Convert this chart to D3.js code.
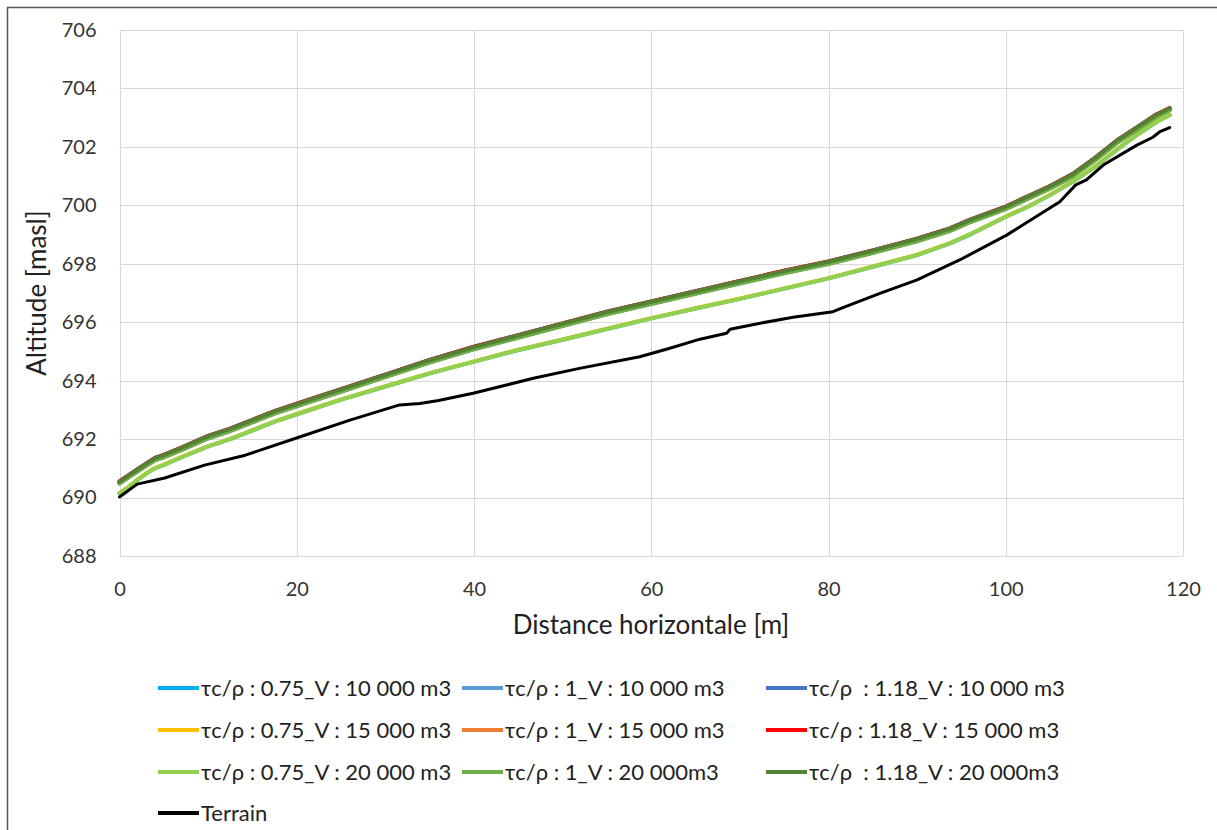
<!DOCTYPE html>
<html><head><meta charset="utf-8">
<script src="https://cdn.jsdelivr.net/npm/d3@7"></script>
<style>
html,body{margin:0;padding:0;background:#fff;}
svg{display:block;font-family:Lato,"Open Sans",sans-serif;}
text{white-space:pre;}
</style></head>
<body><svg id="c" width="1217" height="830"></svg>
<script>
// Horizontal distance positions (m) shared by the simulated profiles
const xs = [0,1,2,3,4,5,7,10,12.5,15,17.5,20,25,30,35,40,45,50,55,60,65,70,75,80,85,90,93.7,96,100,102.5,105,107.5,110,112.5,115,117,118.5];

// Simulated flow surface altitudes (masl)
const s075_10k = [690.14,690.35,690.60,690.82,691.00,691.12,691.38,691.75,692.00,692.30,692.60,692.85,693.35,693.80,694.25,694.65,695.05,695.40,695.77,696.13,696.47,696.80,697.15,697.50,697.90,698.30,698.70,699.00,699.61,699.95,700.35,700.80,701.30,701.90,702.45,702.85,703.09];
const s1_10k   = [690.49,690.69,690.89,691.09,691.28,691.38,691.63,692.03,692.28,692.58,692.88,693.13,693.63,694.13,694.63,695.08,695.48,695.88,696.28,696.63,696.98,697.33,697.68,698.00,698.38,698.78,699.13,699.43,699.88,700.23,700.58,700.98,701.53,702.13,702.63,703.03,703.26];
const s118_10k = [690.55,690.76,690.96,691.16,691.36,691.46,691.71,692.11,692.36,692.66,692.96,693.21,693.71,694.21,694.71,695.16,695.56,695.96,696.36,696.71,697.06,697.41,697.76,698.08,698.46,698.86,699.21,699.51,699.96,700.31,700.66,701.06,701.61,702.21,702.71,703.11,703.33];
const s075_15k = [690.15,690.36,690.61,690.83,691.01,691.13,691.39,691.76,692.01,692.31,692.61,692.86,693.36,693.81,694.26,694.66,695.06,695.41,695.78,696.14,696.48,696.81,697.16,697.51,697.91,698.31,698.71,699.01,699.62,699.96,700.36,700.81,701.31,701.91,702.46,702.86,703.10];
const s1_15k   = [690.50,690.70,690.90,691.10,691.29,691.39,691.64,692.04,692.29,692.59,692.89,693.14,693.64,694.14,694.64,695.09,695.49,695.89,696.29,696.64,696.99,697.34,697.69,698.01,698.39,698.79,699.14,699.44,699.89,700.24,700.59,700.99,701.54,702.14,702.64,703.04,703.27];
const s118_15k = [690.55,690.76,690.96,691.16,691.36,691.46,691.71,692.11,692.36,692.66,692.96,693.21,693.71,694.21,694.71,695.16,695.56,695.96,696.36,696.71,697.06,697.41,697.76,698.08,698.46,698.86,699.21,699.51,699.96,700.31,700.66,701.06,701.61,702.21,702.71,703.11,703.33];
const s075_20k = [690.14,690.35,690.60,690.82,691.00,691.12,691.38,691.75,692.00,692.30,692.60,692.85,693.35,693.80,694.25,694.65,695.05,695.40,695.77,696.13,696.47,696.80,697.15,697.50,697.90,698.30,698.70,699.02,699.61,699.95,700.35,700.80,701.30,701.90,702.45,702.85,703.09];
const s1_20k   = [690.48,690.68,690.88,691.08,691.27,691.37,691.62,692.02,692.27,692.57,692.87,693.12,693.62,694.12,694.62,695.07,695.47,695.87,696.27,696.62,696.97,697.32,697.67,697.99,698.37,698.77,699.12,699.42,699.87,700.22,700.57,700.97,701.52,702.12,702.62,703.02,703.25];
const s118_20k = [690.54,690.75,690.95,691.15,691.35,691.45,691.70,692.10,692.35,692.65,692.95,693.20,693.70,694.20,694.70,695.15,695.55,695.95,696.35,696.70,697.05,697.40,697.75,698.07,698.45,698.85,699.20,699.50,699.95,700.30,700.65,701.05,701.60,702.20,702.70,703.10,703.32];

// Terrain profile
const terrainX = [0,2.0,5.1,9.6,14.2,20.4,26.0,31.6,33.9,36.0,39.9,46.7,51.9,58.7,62.0,65.5,68.5,68.9,72.0,76.0,80.5,81.7,85.8,90.0,94.8,100.1,106.1,107.9,109.1,111.0,114.8,116.6,117.4,118.5];
const terrainY = [690.02,690.46,690.67,691.11,691.45,692.08,692.65,693.17,693.22,693.32,693.57,694.08,694.42,694.82,695.10,695.42,695.62,695.76,695.95,696.17,696.36,696.51,696.99,697.45,698.13,698.98,700.12,700.70,700.87,701.38,702.06,702.33,702.52,702.66];

const seriesNames = [
  "τc/ρ : 0.75_V : 10 000 m3","τc/ρ : 1_V : 10 000 m3","τc/ρ  : 1.18_V : 10 000 m3",
  "τc/ρ : 0.75_V : 15 000 m3","τc/ρ : 1_V : 15 000 m3","τc/ρ : 1.18_V : 15 000 m3",
  "τc/ρ : 0.75_V : 20 000 m3","τc/ρ : 1_V : 20 000m3","τc/ρ  : 1.18_V : 20 000m3"
];
const seriesValues = [s075_10k,s1_10k,s118_10k,s075_15k,s1_15k,s118_15k,s075_20k,s1_20k,s118_20k];
const seriesColors = ["#00b0f0","#5b9bd5","#4472c4","#ffc000","#ed7d31","#ff0000","#92d050","#70ad47","#548235"];
const terrainName = "Terrain";

const xTicks = [0,20,40,60,80,100,120];
const yTicks = [688,690,692,694,696,698,700,702,704,706];
const xTitle = "Distance horizontale [m]";
const yTitle = "Altitude [masl]";

const svg = d3.select("#c");
svg.append("rect").attr("width",1217).attr("height",830).attr("fill","#fff");
svg.append("rect").attr("x",7.5).attr("y",7.5).attr("width",1400).attr("height",1000)
   .attr("fill","none").attr("stroke","#595959").attr("stroke-width",1.5);

const L=119.5, R=1183, T=30, B=556;
const x = d3.scaleLinear().domain([0,120]).range([L,R]);
const y = d3.scaleLinear().domain([688,706]).range([B,T]);

const grid = svg.append("g");
grid.selectAll("line.h").data(yTicks).join("line")
  .attr("x1",L).attr("x2",R).attr("y1",d=>Math.round(y(d))+0.5).attr("y2",d=>Math.round(y(d))+0.5)
  .attr("stroke","#d9d9d9").attr("stroke-width",1);
grid.selectAll("line.v").data(xTicks).join("line")
  .attr("y1",T).attr("y2",B).attr("x1",d=>Math.round(x(d))+0.5).attr("x2",d=>Math.round(x(d))+0.5)
  .attr("stroke","#d9d9d9").attr("stroke-width",1);

const yAxis = svg.append("g").attr("transform",`translate(${L},0)`)
  .call(d3.axisLeft(y).tickValues(yTicks).tickSize(0).tickPadding(23));
const xAxis = svg.append("g").attr("transform",`translate(0,${B})`)
  .call(d3.axisBottom(x).tickValues(xTicks).tickSize(0).tickPadding(26));
[yAxis,xAxis].forEach(a=>{
  a.select(".domain").remove();
  a.selectAll("text").attr("font-family","Lato,sans-serif").attr("font-size",20).attr("fill","#333");
});

svg.append("text").attr("x",651).attr("y",634).attr("text-anchor","middle")
  .attr("font-size",26).attr("fill","#222").text(xTitle);
svg.append("text").attr("transform","translate(46,293) rotate(-90)").attr("text-anchor","middle")
  .attr("font-size",26).attr("fill","#222").text(yTitle);

const line = d3.line().x(d=>x(d[0])).y(d=>y(d[1])).curve(d3.curveLinear);
const plot = svg.append("g");
seriesValues.forEach((vals,i)=>{
  plot.append("path").datum(xs.map((xv,j)=>[xv,vals[j]]))
    .attr("d",line).attr("fill","none").attr("stroke",seriesColors[i])
    .attr("stroke-width",4).attr("stroke-linejoin","round").attr("stroke-linecap","round");
});
plot.append("path").datum(terrainX.map((xv,j)=>[xv,terrainY[j]]))
  .attr("d",line).attr("fill","none").attr("stroke","#000")
  .attr("stroke-width",3).attr("stroke-linejoin","round").attr("stroke-linecap","round");

// Legend
const colX = [158,462,766];
const rowY = [688,730,772,813];
const leg = svg.append("g");
const items = seriesNames.map((n,i)=>({name:n,color:seriesColors[i],w:4,col:i%3,row:Math.floor(i/3)}));
items.push({name:terrainName,color:"#000",w:4,col:0,row:3});
items.forEach(it=>{
  const g = leg.append("g").attr("transform",`translate(${colX[it.col]},${rowY[it.row]})`);
  g.append("line").attr("x1",0).attr("x2",41).attr("y1",0).attr("y2",0)
    .attr("stroke",it.color).attr("stroke-width",it.w);
  g.append("text").attr("x",43).attr("y",0).attr("dy","0.35em")
    .attr("font-size",22).attr("fill","#222").text(it.name);
});
</script></body></html>
